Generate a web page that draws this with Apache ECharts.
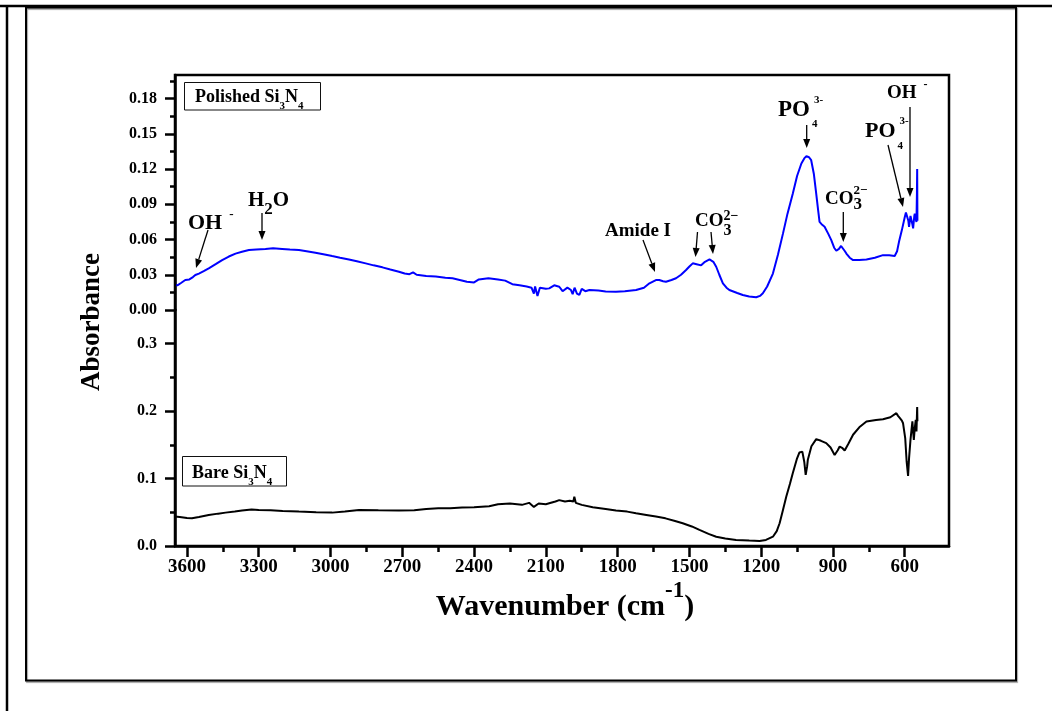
<!DOCTYPE html>
<html><head><meta charset="utf-8">
<script src="https://cdn.jsdelivr.net/npm/echarts@6/dist/echarts.min.js"></script>
<style>html,body{margin:0;padding:0;background:#fff}#c{width:1052px;height:711px}</style>
</head><body><div id="c"></div>
<script>
// ---- data ----
const polishedWn = [
 3651,3640,3625,3607,3590,3575,3565,3550,3530,3509,
 3480,3453,3425,3397,3370,3341,3310,3272,3240,3202,
 3170,3132,3100,3063,3030,2993,2960,2923,2890,2853,
 2820,2783,2750,2714,2690,2670,2655,2640,2600,2560,
 2520,2490,2460,2430,2400,2380,2340,2300,2270,2240,
 2210,2180,2160,2150,2145,2135,2125,2100,2086,2065,
 2044,2030,2010,1995,1988,1980,1970,1960,1950,1935,
 1918,1880,1850,1807,1770,1723,1690,1667,1640,1626,
 1610,1598,1575,1556,1535,1514,1500,1486,1470,1451,
 1435,1416,1400,1388,1375,1360,1345,1333,1300,1277,
 1250,1221,1205,1193,1175,1151,1130,1109,1090,1068,
 1050,1032,1020,1011,1000,991,980,970,962,956,
 945,935,920,907,895,886,875,866,858,850,
 844,830,816,790,760,725,691,665,642,632,
 624,612,600,595,590,585,582,576,572,568,
 565,560,558,555,551,549,548,547];
const polishedAbs = [
 0.022,0.021,0.023,0.0255,0.026,0.028,0.0298,0.031,0.033,0.0354,
 0.039,0.0425,0.0455,0.048,0.0495,0.051,0.0515,0.052,0.0525,0.052,
 0.0515,0.051,0.050,0.0488,0.0475,0.0459,0.0445,0.043,0.0415,0.0397,
 0.038,0.0363,0.0345,0.0326,0.031,0.0305,0.032,0.030,0.029,0.0285,
 0.0275,0.027,0.0255,0.024,0.0235,0.026,0.027,0.026,0.025,0.022,
 0.021,0.020,0.019,0.014,0.020,0.012,0.019,0.018,0.0184,0.021,
 0.0198,0.016,0.019,0.017,0.0135,0.019,0.014,0.0128,0.018,0.016,
 0.017,0.0165,0.0158,0.0156,0.016,0.017,0.019,0.0227,0.0255,0.0255,
 0.0245,0.024,0.0255,0.027,0.030,0.034,0.037,0.0397,0.039,0.038,
 0.041,0.043,0.041,0.0368,0.030,0.0227,0.019,0.017,0.0145,0.0128,
 0.0115,0.0108,0.012,0.0142,0.020,0.031,0.047,0.065,0.082,0.099,
 0.114,0.1247,0.129,0.131,0.130,0.1275,0.116,0.099,0.085,0.075,
 0.0725,0.0708,0.065,0.0595,0.053,0.0504,0.052,0.0545,0.053,0.050,
 0.048,0.0445,0.0425,0.0425,0.043,0.0445,0.0467,0.0465,0.046,0.050,
 0.058,0.068,0.079,0.083,0.0836,0.076,0.0708,0.080,0.081,0.073,
 0.0694,0.080,0.082,0.078,0.075,0.100,0.120,0.076];

const bareWn = [
 3651,3630,3600,3579,3550,3509,3470,3439,3400,3370,
 3330,3300,3250,3200,3132,3060,2993,2940,2881,2800,
 2714,2650,2600,2550,2500,2450,2400,2337,2300,2250,
 2200,2170,2150,2130,2100,2086,2060,2044,2020,2000,
 1985,1981,1975,1950,1904,1850,1807,1760,1723,1680,
 1640,1600,1560,1528,1490,1458,1420,1388,1350,1305,
 1250,1207,1180,1151,1135,1123,1110,1095,1080,1068,
 1050,1040,1028,1020,1014,1008,1005,990,970,950,
 928,910,893,880,872,860,851,835,816,790,
 760,720,691,660,635,628,621,612,607,598,
 592,586,582,576,570,568,565,562,558,554,
 551,548,547];
const bareAbs = [
 0.0436,0.043,0.0415,0.041,0.043,0.046,0.048,0.0495,0.051,0.0525,
 0.054,0.0535,0.053,0.052,0.051,0.050,0.0495,0.051,0.0535,0.053,
 0.0525,0.053,0.055,0.056,0.056,0.057,0.0575,0.059,0.062,0.063,
 0.061,0.064,0.058,0.063,0.062,0.0634,0.066,0.068,0.066,0.067,
 0.066,0.073,0.064,0.061,0.0575,0.055,0.0525,0.051,0.0486,0.046,
 0.0436,0.041,0.037,0.0337,0.029,0.0238,0.018,0.0138,0.011,0.0089,
 0.008,0.0074,0.009,0.0138,0.022,0.0337,0.052,0.0733,0.092,0.108,
 0.130,0.1387,0.140,0.125,0.1055,0.118,0.128,0.148,0.1585,0.156,
 0.1526,0.146,0.135,0.142,0.1475,0.145,0.1416,0.152,0.165,0.176,
 0.1847,0.187,0.188,0.191,0.197,0.193,0.190,0.186,0.182,0.160,
 0.125,0.104,0.130,0.1575,0.178,0.185,0.170,0.1575,0.175,0.187,
 0.170,0.206,0.185];

const xMajorTicks = [3600,3300,3000,2700,2400,2100,1800,1500,1200,900,600];
const xMinorTicks = [3450,3150,2850,2550,2250,1950,1650,1350,1050,750];
const topMajorTicks = [0,0.03,0.06,0.09,0.12,0.15,0.18];
const topMinorTicks = [0.015,0.045,0.075,0.105,0.135,0.165,0.195];
const botMajorTicks = [0,0.1,0.2,0.3];
const botMinorTicks = [0.05,0.15,0.25];

// ---- layout ----
const FAM = 'Liberation Serif';
const G = {left:175, top:75, width:774, hTop:235, hBot:236};
const X_MIN = 415, X_MAX = 3650;

const chart = echarts.init(document.getElementById('c'), null, {renderer:'canvas'});

function zip(a,b){ return a.map((v,i)=>[v,b[i]]); }

function xAxisBase(grid){
  return {type:'value', gridIndex:grid, min:X_MIN, max:X_MAX, inverse:true, splitLine:{show:false}};
}
const lbl = {fontFamily:FAM, fontWeight:'bold', color:'#000'};

// rich label helper
function lab(x, capTopRef, F, parts, opts){
  opts = opts || {};
  const s = opts.s != null ? opts.s : Math.round(0.35*F);
  const B = s + 0.84*F, capTop = B - 0.66*F;
  const rich = {}; let text = '';
  parts.forEach((p,i)=>{
    const key = 'r'+i;
    const f = p.f || F;
    let pt = s;
    if (p.k === 'b') pt = B + (p.off!=null?p.off:0.6)*f - 0.84*f;
    else if (p.k === 'p') pt = Math.max(0, capTop + (p.so!=null?p.so:0.1)*F - 0.84*f);
    const st = {fontSize:f, lineHeight:f, fontFamily:FAM, fontWeight:'bold', color:'#000',
      verticalAlign:'top', padding:[pt,0,0,p.pl||0]};
    if (p.w != null) st.width = p.w;
    rich[key] = st;
    text += '{'+key+'|'+p.t+'}';
  });
  const style = {text, rich, align: opts.align||'left', verticalAlign:'top'};
  const shift = opts.noShift ? 0 : 0.12*F;
  return {type:'text', silent:true, z:50, x: x, y: capTopRef - capTop + shift, style};
}

function arrow(x1,y1,x2,y2){
  const a = Math.atan2(y2-y1,x2-x1), L=9, W=3.5;
  const bx = x2-L*Math.cos(a), by = y2-L*Math.sin(a);
  const px = -Math.sin(a)*W, py = Math.cos(a)*W;
  return [
    {type:'line', silent:true, z:50, shape:{x1,y1,x2:bx,y2:by}, style:{stroke:'#000', lineWidth:1.3}},
    {type:'polygon', silent:true, z:50, shape:{points:[[x2,y2],[bx+px,by+py],[bx-px,by-py]]}, style:{fill:'#000'}}
  ];
}

const graphics = [
  // page frames
  {type:'line', silent:true, shape:{x1:0,y1:6,x2:1052,y2:6}, style:{stroke:'#000', lineWidth:2.5}},
  {type:'line', silent:true, shape:{x1:7,y1:6,x2:7,y2:711}, style:{stroke:'#000', lineWidth:2.5}},
  {type:'rect', silent:true, shape:{x:26,y:7.5,width:990,height:673}, style:{fill:'none', stroke:'#000', lineWidth:2, shadowColor:'rgba(0,0,0,0.35)', shadowOffsetX:1, shadowOffsetY:1.5, shadowBlur:1}},
  // plot frame
  {type:'rect', silent:true, z:40, shape:{x:G.left, y:G.top, width:G.width, height:G.hTop+G.hBot}, style:{fill:'none', stroke:'#000', lineWidth:2.5}},
  // axis titles
  {type:'text', silent:true, x:92, y:322, rotation:Math.PI/2, style:{text:'Absorbance', fontSize:27, fontFamily:FAM, fontWeight:'bold', fill:'#000', align:'center', verticalAlign:'middle'}},
  lab(565, 598, 30, [{k:'m',t:'Wavenumber (cm'},{k:'p',t:'-1',f:23,so:0.04},{k:'m',t:')'}], {align:'center', s:14, noShift:true}),
  // sample boxes
  {type:'rect', silent:true, z:45, shape:{x:184.5, y:82.5, width:136, height:27.5}, style:{fill:'#fff', stroke:'#111', lineWidth:1}},
  {type:'rect', silent:true, z:45, shape:{x:182.5, y:456.5, width:104, height:29.5}, style:{fill:'#fff', stroke:'#111', lineWidth:1}},
  lab(195, 89, 18, [{k:'m',t:'Polished Si'},{k:'b',t:'3',f:11,off:0.64},{k:'m',t:'N'},{k:'b',t:'4',f:11,off:0.64}]),
  lab(192, 465, 18, [{k:'m',t:'Bare Si'},{k:'b',t:'3',f:11,off:0.64},{k:'m',t:'N'},{k:'b',t:'4',f:11,off:0.64}]),
  // annotations
  lab(188, 214, 22, [{k:'m',t:'OH'},{k:'p',t:'-',f:13,pl:7}]),
  lab(248, 191, 21, [{k:'m',t:'H'},{k:'b',t:'2',f:17,off:0.47},{k:'m',t:'O'}]),
  lab(605, 223, 19, [{k:'m',t:'Amide I'}]),
  lab(695, 213, 19, [{k:'m',t:'CO'},{k:'b',t:'3',f:16,off:0.53,w:0.01},{k:'p',t:'2\u2212',f:14,so:0.3}]),
  lab(778, 100, 23, [{k:'m',t:'PO'},{k:'b',t:'4',f:11,off:0.9,w:0.01,pl:2},{k:'p',t:'3-',f:11,so:0.04,pl:2}]),
  lab(825, 191, 19, [{k:'m',t:'CO'},{k:'b',t:'3',f:17,off:0.26,w:0.01},{k:'p',t:'2\u2212',f:13,so:0.1}]),
  lab(865, 122, 22, [{k:'m',t:'PO'},{k:'b',t:'4',f:11,off:0.95,w:0.01,pl:2},{k:'p',t:'3-',f:11,so:0,pl:2}]),
  lab(887, 85, 19, [{k:'m',t:'OH'},{k:'p',t:'-',f:12,pl:7}]),
  ...arrow(208,230,196,268),
  ...arrow(262,213,262,240),
  ...arrow(643,240,655,272),
  ...arrow(697.5,232,695.5,257),
  ...arrow(711,232,713,254),
  ...arrow(806.7,125,806.7,148),
  ...arrow(843.3,212,843.3,242),
  ...arrow(888,145,903,207),
  ...arrow(910,107,910,197)
];

const option = {
  animation:false,
  backgroundColor:'#fff',
  grid:[
    {left:G.left, top:G.top, width:G.width, height:G.hTop, outerBoundsMode:'none', containLabel:false},
    {left:G.left, top:G.top+G.hTop, width:G.width, height:G.hBot, outerBoundsMode:'none', containLabel:false}
  ],
  xAxis:[
    Object.assign(xAxisBase(0), {show:false}),
    Object.assign(xAxisBase(1), {position:'bottom',
      axisLine:{show:true, lineStyle:{color:'#000', width:2.5}},
      axisTick:{show:true, customValues:xMajorTicks, length:11, lineStyle:{color:'#000', width:2.5}},
      axisLabel:Object.assign({show:true, customValues:xMajorTicks, fontSize:19, margin:12, formatter:v=>String(v)}, lbl)}),
    Object.assign(xAxisBase(1), {position:'bottom',
      axisLine:{show:false},
      axisTick:{show:true, customValues:xMinorTicks, length:6, lineStyle:{color:'#000', width:2.5}},
      axisLabel:{show:false}})
  ],
  yAxis:[
    {type:'value', gridIndex:0, min:0, max:0.2, position:'left', splitLine:{show:false},
      axisLine:{show:true, lineStyle:{color:'#000', width:2.5}},
      axisTick:{show:true, customValues:topMajorTicks, length:10, lineStyle:{color:'#000', width:2.5}},
      axisLabel:Object.assign({show:true, customValues:topMajorTicks, fontSize:16, margin:18, formatter:v=>v.toFixed(2)}, lbl)},
    {type:'value', gridIndex:0, min:0, max:0.2, position:'left', offset:0, splitLine:{show:false},
      axisLine:{show:false},
      axisTick:{show:true, customValues:topMinorTicks, length:5, lineStyle:{color:'#000', width:2.5}},
      axisLabel:{show:false}},
    {type:'value', gridIndex:1, min:0, max:0.35, position:'left', splitLine:{show:false},
      axisLine:{show:true, lineStyle:{color:'#000', width:2.5}},
      axisTick:{show:true, customValues:botMajorTicks, length:10, lineStyle:{color:'#000', width:2.5}},
      axisLabel:Object.assign({show:true, customValues:botMajorTicks, fontSize:16, margin:18, formatter:v=>v.toFixed(1)}, lbl)},
    {type:'value', gridIndex:1, min:0, max:0.35, position:'left', offset:0, splitLine:{show:false},
      axisLine:{show:false},
      axisTick:{show:true, customValues:botMinorTicks, length:5, lineStyle:{color:'#000', width:2.5}},
      axisLabel:{show:false}}
  ],
  series:[
    {name:'Polished Si3N4', type:'line', xAxisIndex:0, yAxisIndex:0, data:zip(polishedWn, polishedAbs),
      showSymbol:false, symbol:'none', lineStyle:{color:'#0000ff', width:2}, itemStyle:{color:'#0000ff'}, z:10},
    {name:'Bare Si3N4', type:'line', xAxisIndex:1, yAxisIndex:2, data:zip(bareWn, bareAbs),
      showSymbol:false, symbol:'none', lineStyle:{color:'#000', width:2}, itemStyle:{color:'#000'}, z:10}
  ],
  graphic: graphics
};
chart.setOption(option);
</script>
</body></html>
